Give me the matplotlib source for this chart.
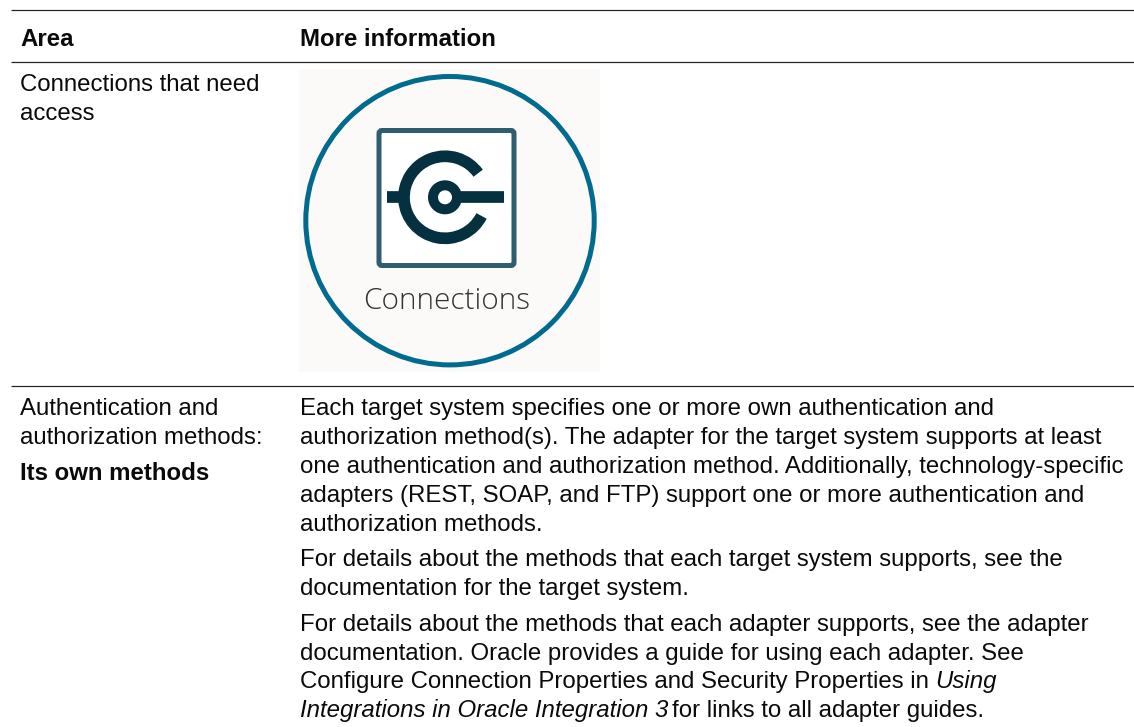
import matplotlib
matplotlib.use("Agg")
import matplotlib.pyplot as plt
from matplotlib.patches import Rectangle, Circle, Arc, FancyBboxPatch

W, H = 1134, 727
FONT = "Liberation Sans"
SIZE = 17.28

header = [("Area", 20, 46), ("More information", 300, 46)]
left_lines = [("Connections that need", 91), ("access", 120),
              ("Authentication and", 415), ("authorization methods:", 444)]
left_bold = ("Its own methods", 480)
right_lines = [
    ("Each target system specifies one or more own authentication and", 415),
    ("authorization method(s). The adapter for the target system supports at least", 444),
    ("one authentication and authorization method. Additionally, technology-specific", 473),
    ("adapters (REST, SOAP, and FTP) support one or more authentication and", 502),
    ("authorization methods.", 531),
    ("For details about the methods that each target system supports, see the", 566),
    ("documentation for the target system.", 595),
    ("For details about the methods that each adapter supports, see the adapter", 631),
    ("documentation. Oracle provides a guide for using each adapter. See", 660),
]
mixed_lines = [
    [("Configure Connection Properties and Security Properties in", "normal", 6.7), ("Using", "italic", 0)],
    [("Integrations in Oracle Integration 3", "italic", 3.2), ("for links to all adapter guides.", "normal", 0)],
]
mixed_y = [688, 717]
rules = [(11, 10), (11, 61.5), (11, 386)]

fig = plt.figure(figsize=(W / 100, H / 100), dpi=100, facecolor="white")
ax = fig.add_axes([0, 0, 1, 1])
ax.set_xlim(0, W)
ax.set_ylim(H, 0)
ax.axis("off")

def lw(px):
    return px * 72 / 100

def put(x, y, s, weight="normal", style="normal"):
    return ax.text(x, y, s, family=FONT, fontsize=SIZE, weight=weight, style=style,
                   color="#0A0A0A", va="baseline", ha="left")

for x0, y0 in rules:
    ax.plot([x0, W], [y0, y0], color="#222222", lw=lw(1.2), solid_capstyle="butt")

for s, x, y in header:
    put(x, y, s, weight="bold")
for s, y in left_lines:
    put(20, y, s)
put(20, left_bold[1], left_bold[0], weight="bold")
for s, y in right_lines:
    put(300, y, s)

renderer = fig.canvas.get_renderer()
for parts, y in zip(mixed_lines, mixed_y):
    x = 300
    for s, style, gap in parts:
        t = put(x, y, s, style=style)
        x = t.get_window_extent(renderer).x1 + gap

# Connections icon
ax.add_patch(Rectangle((299, 69), 301, 303, fc="#FBFAF9", ec="none"))
ax.add_patch(Circle((450, 220.7), 144.2, fc="none", ec="#006B8F", lw=lw(5)))
ax.add_patch(FancyBboxPatch((379, 130.5), 135, 135, boxstyle="round,pad=0,rounding_size=3",
                            fc="white", ec="#2F5C6E", lw=lw(5)))
dark = "#04303F"
cx, cy = 445, 197.3
ax.add_patch(Arc((cx, cy), 82, 82, theta1=27, theta2=324, ec=dark, lw=lw(11.7), capstyle="butt"))
ax.add_patch(Circle((cx, cy), 12, fc="none", ec=dark, lw=lw(10)))
ax.plot([459, 504], [197.3, 197.3], color=dark, lw=lw(11.7), solid_capstyle="butt")
ax.plot([386.5, 402], [197.3, 197.3], color=dark, lw=lw(11.7), solid_capstyle="butt")
ax.text(447, 309, "Connections", family="Open Sans", fontsize=21.4, weight="light",
        color="#333333", ha="center", va="baseline")

fig.savefig("out.png", dpi=100, facecolor="white")
